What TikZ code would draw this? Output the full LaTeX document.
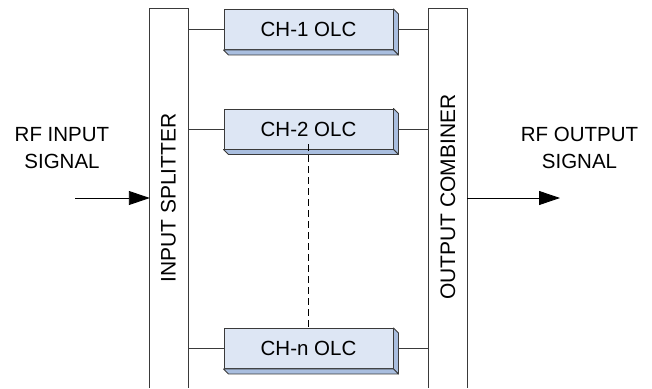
\documentclass[tikz,border=0pt]{standalone}
\usepackage{fontspec}
\setmainfont{Liberation Sans}
\usetikzlibrary{arrows.meta}
\definecolor{frontcol}{HTML}{DDE6F4}
\definecolor{sidecol}{HTML}{A9BEDF}
\definecolor{linecol}{HTML}{3A3A3A}
\tikzset{
  olc/.style={draw=linecol, line width=0.9pt, fill=frontcol, minimum width=169pt, minimum height=40pt,
    inner sep=0pt, font=\fontsize{20.5}{24}\selectfont},
  bar/.style={minimum width=38pt, inner sep=0pt},
  wire/.style={draw=linecol, line width=0.9pt},
  sig/.style={align=center, inner sep=0pt, font=\fontsize{20.5}{27}\selectfont},
  side/.style={fill=sidecol, draw=linecol, line width=0.9pt, line join=round},
  tip/.style={-{Triangle[length=21pt,width=14pt]}}
}
\begin{document}
\begin{tikzpicture}[x=1pt,y=-1pt]
\useasboundingbox (0,0) rectangle (652,388);
% splitter and combiner (open at the bottom)
\node[bar, minimum height=379pt] (split) at (169,198.5) {};
\node[bar, minimum height=379pt] (comb) at (448,198.5) {};
\draw[wire] (split.south west) -- (split.north west) -- (split.north east) -- (split.south east);
\draw[wire] (comb.south west) -- (comb.north west) -- (comb.north east) -- (comb.south east);
\node[rotate=90, inner sep=0pt, font=\fontsize{21}{24}\selectfont] (splittxt) at (168.5,198) {INPUT SPLITTER};
\node[rotate=90, inner sep=0pt, font=\fontsize{21}{24}\selectfont] (combtxt) at (448,197) {OUTPUT COMBINER};
% channel boxes
\node[olc] (ch1) at (308.5,29.5) {CH-1 OLC};
\node[olc] (ch2) at (308.5,129) {CH-2 OLC};
\node[olc] (chn) at (308.5,348.5) {CH-n OLC};
\foreach \b in {ch1,ch2,chn}{
  \draw[side] (\b.north east) -- ++(5,5) -- ([shift={(5,5)}]\b.south east) -- (\b.south east) -- cycle;
  \draw[side] (\b.south west) -- ++(5,5) -- ([shift={(5,5)}]\b.south east) -- (\b.south east) -- cycle;
  \draw[wire] (split.east |- \b.west) -- (\b.west);
  \draw[wire] ([xshift=5]\b.east) -- (comb.west |- \b.east);
}
\draw[wire, draw=black, line width=1.3pt, dash pattern=on 7pt off 4pt] ([yshift=5]ch2.south) -- (chn.north);
% signals
\coordinate (inp) at (75,198);
\coordinate (outp) at (560,198);
\draw[wire, tip, draw=black] (inp) -- (split.west |- inp);
\draw[wire, tip, draw=black] (comb.east |- outp) -- (outp);
\node[sig] (intxt) at (62,148) {RF INPUT\\SIGNAL};
\node[sig] (outtxt) at (579.5,148) {RF OUTPUT\\SIGNAL};
\end{tikzpicture}
\end{document}
